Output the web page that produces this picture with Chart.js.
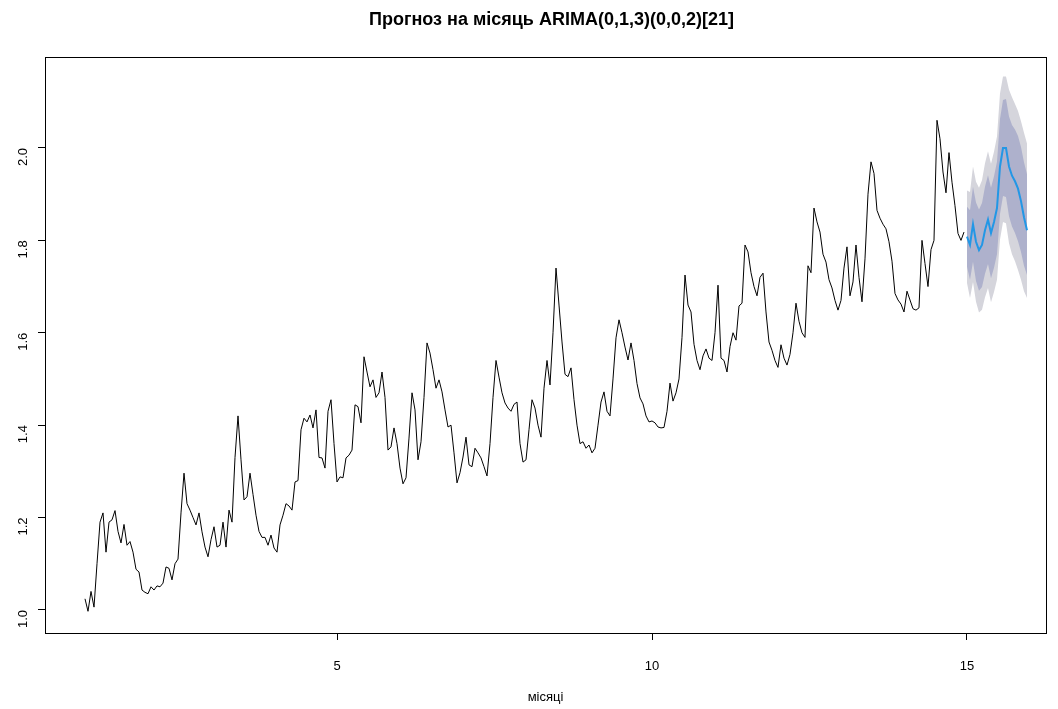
<!DOCTYPE html>
<html>
<head>
<meta charset="utf-8">
<script src="https://cdn.jsdelivr.net/npm/chart.js@4.4.0/dist/chart.umd.min.js"></script>
<style>
  html, body { margin: 0; padding: 0; background: #fff; }
  #wrap { width: 1058px; height: 709px; }
</style>
</head>
<body>
<div id="wrap"><canvas id="chartForecast"></canvas></div>
<script>
// observed series, 21 points per month, starting at month 1
const series = [
  1.024, 0.997, 1.04, 1.006, 1.10, 1.19, 1.21, 1.125, 1.19, 1.195, 1.215, 1.17, 1.145, 1.185, 1.14, 1.148, 1.125, 1.088, 1.082, 1.043, 1.038,
  1.035, 1.05, 1.043, 1.052, 1.05, 1.058, 1.093, 1.09, 1.065, 1.10, 1.11, 1.21, 1.296, 1.23, 1.216, 1.2, 1.184, 1.21, 1.169, 1.136, 1.115,
  1.152, 1.18, 1.136, 1.14, 1.19, 1.136, 1.216, 1.19, 1.33, 1.42, 1.325, 1.238, 1.245, 1.296, 1.25, 1.205, 1.17, 1.157, 1.157, 1.14, 1.162,
  1.134, 1.125, 1.184, 1.205, 1.23, 1.225, 1.216, 1.277, 1.28, 1.39, 1.415, 1.407, 1.422, 1.394, 1.433, 1.33, 1.329, 1.307, 1.43, 1.455, 1.36,
  1.277, 1.288, 1.286, 1.329, 1.335, 1.346, 1.444, 1.44, 1.405, 1.548, 1.515, 1.483, 1.498, 1.46, 1.47, 1.515, 1.46, 1.346, 1.353, 1.394, 1.36,
  1.307, 1.273, 1.286, 1.372, 1.47, 1.433, 1.325, 1.364, 1.46, 1.578, 1.556, 1.52, 1.48, 1.498, 1.472, 1.433, 1.396, 1.40, 1.34, 1.275, 1.297,
  1.331, 1.374, 1.314, 1.31, 1.35, 1.34, 1.329, 1.31, 1.29, 1.36, 1.46, 1.54, 1.504, 1.47, 1.448, 1.437, 1.43, 1.445, 1.45, 1.36, 1.32,
  1.325, 1.39, 1.455, 1.437, 1.40, 1.374, 1.48, 1.54, 1.487, 1.6, 1.74, 1.66, 1.58, 1.51, 1.505, 1.524, 1.455, 1.40, 1.36, 1.364, 1.35,
  1.357, 1.34, 1.35, 1.4, 1.45, 1.472, 1.43, 1.42, 1.50, 1.589, 1.628, 1.60, 1.569, 1.541, 1.578, 1.54, 1.49, 1.459, 1.446, 1.42, 1.407,
  1.409, 1.405, 1.396, 1.394, 1.395, 1.43, 1.491, 1.452, 1.47, 1.50, 1.59, 1.725, 1.66, 1.645, 1.575, 1.54, 1.52, 1.55, 1.565, 1.545, 1.54,
  1.6, 1.703, 1.545, 1.54, 1.515, 1.57, 1.6, 1.584, 1.658, 1.664, 1.79, 1.775, 1.73, 1.70, 1.68, 1.72, 1.729, 1.645, 1.58, 1.562, 1.54,
  1.525, 1.574, 1.545, 1.53, 1.553, 1.6, 1.664, 1.625, 1.60, 1.59, 1.745, 1.73, 1.87, 1.84, 1.818, 1.77, 1.753, 1.715, 1.697, 1.67, 1.649,
  1.67, 1.74, 1.786, 1.68, 1.71, 1.79, 1.72, 1.667, 1.76, 1.90, 1.97, 1.945, 1.865, 1.848, 1.835, 1.825, 1.797, 1.755, 1.685, 1.671, 1.662,
  1.645, 1.69, 1.671, 1.652, 1.649, 1.654, 1.80, 1.75, 1.70, 1.78, 1.80, 2.06, 2.02, 1.948, 1.903, 1.99, 1.926, 1.875, 1.815, 1.80, 1.818
];

// forecast for next month (21 steps) with 80% / 95% intervals
const fcMean  = [1.808, 1.79, 1.835, 1.797, 1.779, 1.79, 1.822, 1.845, 1.816, 1.84, 1.87, 1.96, 2.0, 2.0, 1.96, 1.94, 1.928, 1.912, 1.885, 1.85, 1.822];
const fcLo80  = [1.743, 1.715, 1.754, 1.712, 1.691, 1.699, 1.728, 1.749, 1.718, 1.741, 1.77, 1.857, 1.896, 1.894, 1.852, 1.83, 1.816, 1.798, 1.775, 1.745, 1.725];
const fcHi80  = [1.873, 1.865, 1.916, 1.882, 1.867, 1.881, 1.916, 1.941, 1.914, 1.939, 1.97, 2.063, 2.104, 2.106, 2.068, 2.05, 2.04, 2.026, 2.002, 1.969, 1.943];
const fcLo95  = [1.708, 1.675, 1.71, 1.667, 1.644, 1.65, 1.677, 1.697, 1.666, 1.688, 1.715, 1.802, 1.84, 1.837, 1.794, 1.77, 1.755, 1.736, 1.715, 1.69, 1.675];
const fcHi95  = [1.908, 1.905, 1.96, 1.927, 1.914, 1.93, 1.967, 1.993, 1.966, 1.992, 2.025, 2.118, 2.155, 2.155, 2.126, 2.11, 2.095, 2.08, 2.058, 2.033, 2.01];

const freq = 21;
const startMonth = 1;
const fcStart = 15;
const xTicks = [5, 10, 15];
const yTicks = [1.0, 1.2, 1.4, 1.6, 1.8, 2.0];

const histPts = series.map((v, i) => ({ x: startMonth + i / freq, y: v }));
const fcPts = arr => arr.map((v, i) => ({ x: fcStart + i / freq, y: v }));

const FONT = "'Liberation Sans', Arial, sans-serif";

// R-style full box around the plot region + title
const boxPlugin = {
  id: 'rbox',
  afterDraw(chart) {
    const a = chart.chartArea, ctx = chart.ctx;
    ctx.save();
    ctx.strokeStyle = '#000';
    ctx.lineWidth = 1;
    ctx.strokeRect(Math.round(a.left) + 0.5, Math.round(a.top) + 0.5, Math.round(a.right - a.left), Math.round(a.bottom - a.top));
    ctx.fillStyle = '#000';
    ctx.font = "bold 18px " + FONT;
    ctx.textAlign = 'center';
    ctx.textBaseline = 'middle';
    ctx.fillText('Прогноз на місяць ARIMA(0,1,3)(0,0,2)[21]', (a.left + a.right) / 2 + 6, 20);
    ctx.restore();
  }
};

new Chart(document.getElementById('chartForecast'), {
  type: 'line',
  data: {
    datasets: [
      { data: fcPts(fcLo95), borderWidth: 0, pointRadius: 0, fill: false, order: 3 },
      { data: fcPts(fcHi95), borderWidth: 0, pointRadius: 0, fill: 0, backgroundColor: '#D5D5DC', order: 3 },
      { data: fcPts(fcLo80), borderWidth: 0, pointRadius: 0, fill: false, order: 2 },
      { data: fcPts(fcHi80), borderWidth: 0, pointRadius: 0, fill: 2, backgroundColor: '#AEB1CC', order: 2 },
      { data: histPts, borderColor: '#000', borderWidth: 1, pointRadius: 0, fill: false, order: 1 },
      { data: fcPts(fcMean), borderColor: '#2297E6', borderWidth: 2, pointRadius: 0, fill: false, order: 0 }
    ]
  },
  options: {
    responsive: true,
    maintainAspectRatio: false,
    animation: false,
    layout: { padding: { top: 57, right: 12, left: 0, bottom: 0 } },
    plugins: {
      legend: { display: false },
      tooltip: { enabled: false }
    },
    scales: {
      x: {
        type: 'linear',
        min: 0.365,
        max: 16.254,
        afterBuildTicks: s => { s.ticks = xTicks.map(v => ({ value: v })); },
        afterFit: s => { s.height = 76; },
        grid: { display: true, drawOnChartArea: false, drawTicks: true, tickLength: 7, color: '#000' },
        border: { display: true, color: '#000' },
        ticks: { color: '#000', font: { family: FONT, size: 13 }, padding: 19, maxRotation: 0, callback: v => String(v) },
        title: { display: true, text: 'місяці', color: '#000', font: { family: FONT, size: 13 }, padding: { top: 6 } }
      },
      y: {
        type: 'linear',
        min: 0.95,
        max: 2.197,
        afterBuildTicks: s => { s.ticks = yTicks.map(v => ({ value: v })); },
        afterFit: s => { s.width = 45; },
        grid: { display: true, drawOnChartArea: false, drawTicks: true, tickLength: 7, color: '#000' },
        border: { display: true, color: '#000' },
        ticks: { color: '#000', font: { family: FONT, size: 13 }, padding: 15, minRotation: 90, maxRotation: 90, callback: v => v.toFixed(1) }
      }
    }
  },
  plugins: [boxPlugin]
});
</script>
</body>
</html>
